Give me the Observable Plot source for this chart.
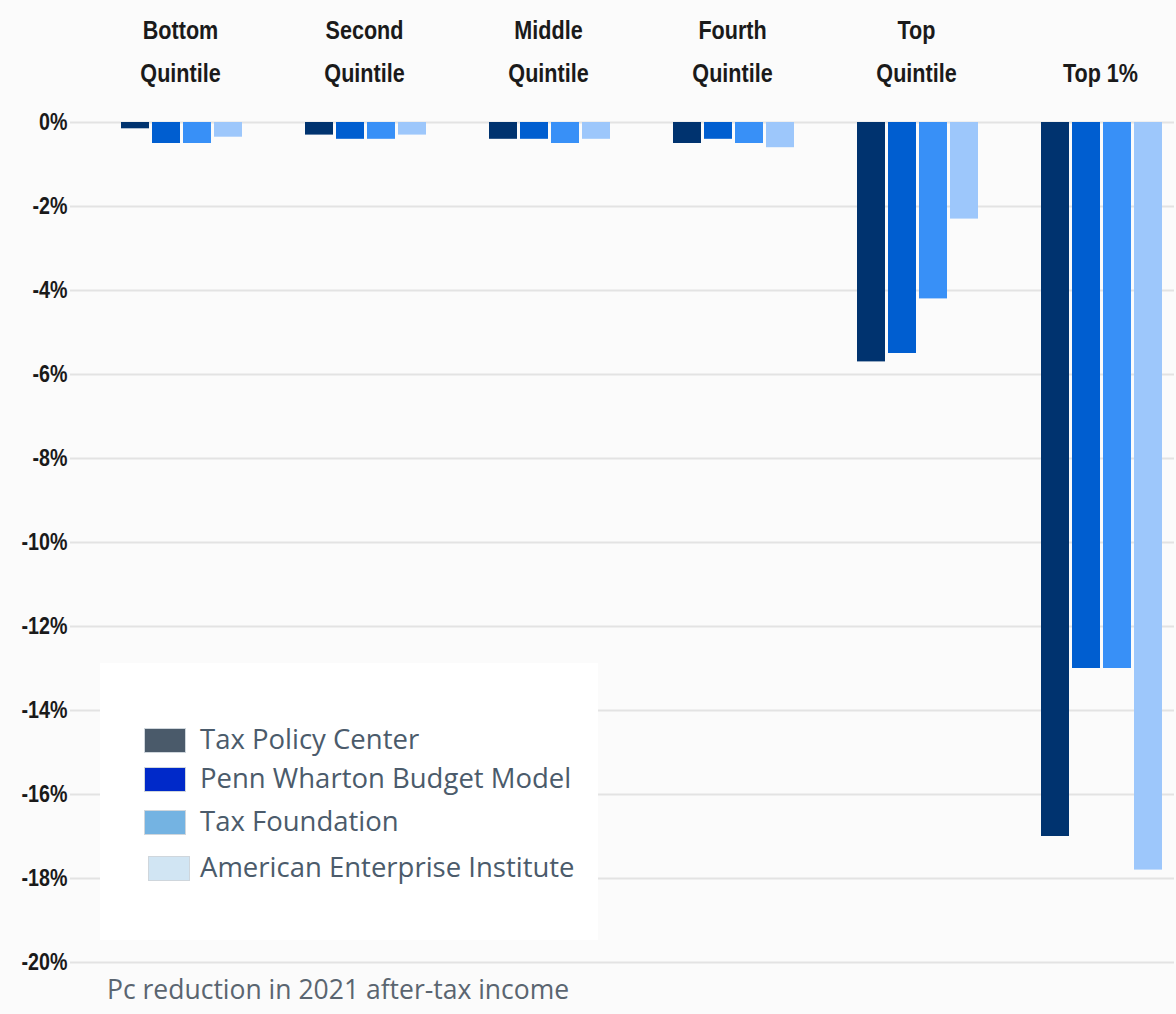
<!DOCTYPE html>
<html>
<head>
<meta charset="utf-8">
<script src="https://cdn.jsdelivr.net/npm/d3@7"></script>
<script src="https://cdn.jsdelivr.net/npm/@observablehq/plot@0.6"></script>
<style>
  html, body { margin: 0; padding: 0; background: #fbfbfb; }
  #wrap { position: relative; width: 1176px; height: 1014px; overflow: hidden; }
  #chart { position: absolute; left: 0; top: 0; }
  #legend { position: absolute; left: 100px; top: 663px; width: 498px; height: 277px; background: #ffffff; }
  .item { position: absolute; left: 44px; height: 26px; }
  .sw { position: absolute; left: 0; top: 0; width: 42px; height: 25px; border: 1px solid #cfd6dc; box-sizing: border-box; }
  .lt { position: absolute; left: 56px; top: -8px; white-space: nowrap; font-family: "Open Sans", sans-serif; font-size: 27.5px; color: #4b5b6b; line-height: 38px; }
  #caption { position: absolute; left: 107px; top: 974px; font-family: "Open Sans", sans-serif; font-size: 26.5px; color: #5a6570; white-space: nowrap; line-height: 30px; }
</style>
</head>
<body>
<div id="wrap">
  <div id="chart"></div>
  <div id="legend"></div>
  <div id="caption">Pc reduction in 2021 after-tax income</div>
</div>
<script>
const groups = ["Bottom Quintile", "Second Quintile", "Middle Quintile", "Fourth Quintile", "Top Quintile", "Top 1%"];
const groupLabels = ["Bottom\nQuintile", "Second\nQuintile", "Middle\nQuintile", "Fourth\nQuintile", "Top\nQuintile", "Top 1%"];
const series = ["Tax Policy Center", "Penn Wharton Budget Model", "Tax Foundation", "American Enterprise Institute"];
const tpc  = [-0.15, -0.3, -0.4, -0.5, -5.7, -17.0];
const pwbm = [-0.5, -0.4, -0.4, -0.4, -5.5, -13.0];
const tf   = [-0.5, -0.4, -0.5, -0.5, -4.2, -13.0];
const aei  = [-0.35, -0.3, -0.4, -0.6, -2.3, -17.8];
const barColors = ["#00336f", "#005ed0", "#3890f7", "#9dc7fb"];
const legendColors = ["#4a5a6a", "#0029c9", "#74b3e2", "#d1e5f3"];
const yTicks = [0, -2, -4, -6, -8, -10, -12, -14, -16, -18, -20];

const seriesValues = [tpc, pwbm, tf, aei];
const rows = [];
groups.forEach((g, i) => series.forEach((s, j) => rows.push({group: g, series: s, value: seriesValues[j][i]})));
const headers = groups.map((g, i) => ({group: g, label: groupLabels[i]}));

const headFont = '"Liberation Sans", Arial, sans-serif';

const plot = Plot.plot({
  width: 1176,
  height: 975,
  marginTop: 122,
  marginBottom: 13,
  marginLeft: 68,
  marginRight: 0,
  style: {background: "transparent", fontFamily: headFont, fontSize: "24px", fontWeight: "bold", color: "#1a1a1a"},
  fx: {domain: groups, padding: 0, axis: null},
  x: {domain: series, paddingInner: 0.085, paddingOuter: 0.955, align: 0.81, axis: null},
  y: {domain: [-20, 0], axis: null},
  color: {domain: series, range: barColors},
  marks: [
    Plot.gridY(yTicks, {stroke: "#e3e3e3", strokeOpacity: 1, strokeWidth: 2}),
    Plot.barY(rows, {fx: "group", x: "series", y: "value", fill: "series"}),
    Plot.text(headers, {fx: "group", text: "label", frameAnchor: "top", lineAnchor: "bottom", lineHeight: 1.64, dx: 18, dy: -41, fontSize: 26, fontWeight: "bold", fill: "#1a1a1a", className: "head"}),
    Plot.axisY(yTicks, {tickSize: 0, tickPadding: 3, tickFormat: d => `${d}%`, fontSize: 24, fontWeight: "bold", label: null, className: "ylab"})
  ]
});
document.getElementById("chart").appendChild(plot);

// condense the bold labels horizontally (narrow bold look of the original)
d3.select(plot).selectAll(".head text, .ylab text").each(function () {
  const x = +(this.getAttribute("x") || 0);
  const t = this.getAttribute("transform") || "";
  const k = this.closest(".head") ? 0.83 : 0.82;
  this.setAttribute("transform", `${t} translate(${x},0) scale(${k},1) translate(${-x},0)`);
});

const legend = document.getElementById("legend");
const tops = [65, 104, 147, 193];
series.forEach((s, i) => {
  const it = document.createElement("div");
  it.className = "item";
  it.style.top = tops[i] + "px";
  if (i === 3) it.style.left = "48px";
  const sw = document.createElement("div");
  sw.className = "sw";
  sw.style.background = legendColors[i];
  const t = document.createElement("div");
  t.className = "lt";
  if (i === 3) t.style.left = "52px";
  t.textContent = s;
  it.appendChild(sw);
  it.appendChild(t);
  legend.appendChild(it);
});
</script>
</body>
</html>
